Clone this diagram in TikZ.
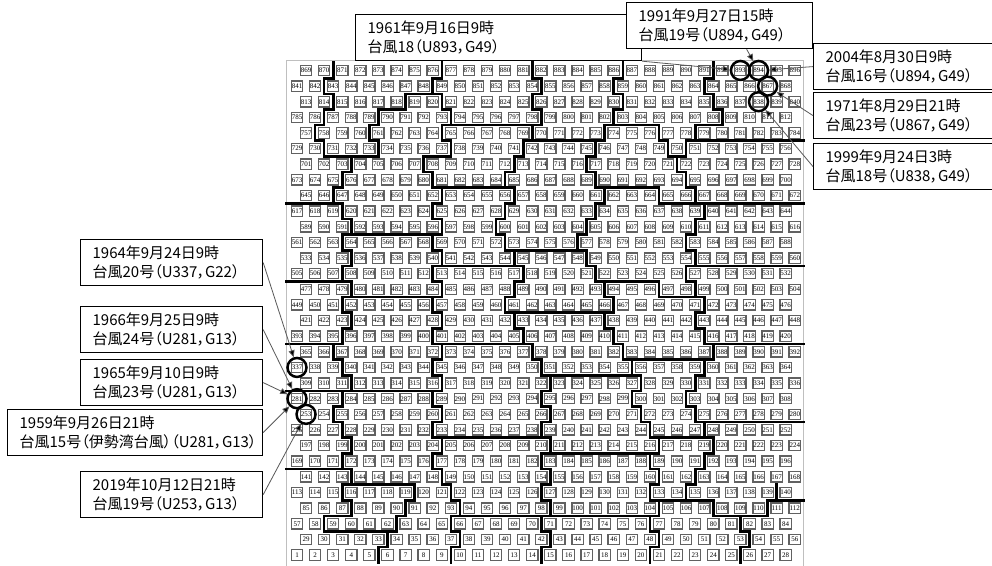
\documentclass[tikz,border=0pt]{standalone}
\usepackage{fontspec}
\setmainfont{Liberation Serif}
\newfontfamily\jp[RawFeature=+palt]{Noto Sans CJK JP}
\usetikzlibrary{arrows.meta}
\begin{document}
\begin{tikzpicture}[x=1pt,y=-1pt,
  cell/.style={draw=black!62, line width=1.25pt, fill=white, minimum width=11.3pt, minimum height=10.3pt, inner sep=0pt, font=\fontsize{7}{7}\selectfont},
  bnd/.style={line width=2.6pt, black, line join=miter, line cap=rect},
  ring/.style={circle, draw=black, line width=2.5pt, minimum size=19pt, inner sep=0pt},
  cbox/.style={draw=black, line width=1.2pt, fill=white, inner xsep=12pt, inner ysep=0pt, minimum height=46pt, align=left, anchor=north west, font=\jp\fontsize{15}{18.5}\selectfont},
  lead/.style={draw=black!65, line width=0.8pt, -{Triangle[length=7pt,width=6pt,fill=black]}}
]
\useasboundingbox (0,0) rectangle (992,565);
\fill[white] (0,0) rectangle (992,565);
% frame of the grid
\draw[black!25, line width=0.8pt] (286,60) rectangle (803,566);
% grid of cells
\foreach \r in {0,...,31}{
  \foreach \c in {0,...,27}{
    \pgfmathtruncatemacro\n{28*\r+\c+1}
    \pgfmathsetmacro\xx{297+18.1*\c+9.05*mod(\r,2)}
    \pgfmathsetmacro\yy{555-15.63*\r}
    \node[cell] (b\n) at (\xx,\yy) {\n};
  }
}
% group boundaries (lattice coordinates)
\begin{scope}[shift={(297,562.8)}, x={(9.05pt,0pt)}, y={(0pt,15.63pt)}]
\draw[bnd] (4,32) \foreach \r/\x in {31/4,30/3,29/4,28/3,27/2,26/3,25/6,24/5,23/4,22/5,21/6,20/5,19/6,18/5,17/6,16/5,15/6,14/5,13/4,12/5,11/6,10/5,9/4,8/5,7/6,6/5,5/6,4/5,3/6,2/3} { -- (\x,\r+1) -- (\x,\r) } -- (10,2);
\draw[bnd] (5,5) -- (13,5) \foreach \r/\x in {4/13,3/12,2/11,1/10,0/9} { -- (\x,\r+1) -- (\x,\r) };
\draw[bnd] (16,32) \foreach \r/\x in {31/16,30/15,29/16,28/17,27/16,26/17,25/14,24/15,23/16,22/15,21/16,20/15,19/16,18/15,17/16,16/15,15/16,14/15,13/16,12/15,11/16,10/15,9/16,8/15,7/16,6/15,5/16,4/17,3/18,2/17,1/18,0/17} { -- (\x,\r+1) -- (\x,\r) };
\draw[bnd] (26,32) \foreach \r/\x in {31/26,30/27,29/26,28/27,27/26,26/25,25/24,24/23,23/24,22/23,21/22,20/23,19/24,18/25,17/24,16/23,15/24,14/25,13/26,12/27,11/28,10/27,9/28,8/27,7/28,6/27,5/28,4/27,3/28,2/27,1/28,0/27} { -- (\x,\r+1) -- (\x,\r) };
\draw[bnd] (36,32) \foreach \r/\x in {31/36,30/35,29/36,28/35,27/34,26/33,25/32,24/33,23/34,22/33,21/32,20/31,19/32,18/33,17/34,16/35,15/34,14/35,13/36,12/37,11/38,10/37,9/38,8/39,7/40,6/39,5/40,4/39,3/40,2/39,1/40,0/39} { -- (\x,\r+1) -- (\x,\r) };
\draw[bnd] (46,32) \foreach \r/\x in {31/46,30/45,29/46,28/47,27/44,26/43,25/42,24/43,23/44,22/45,21/44,20/43,19/44,18/43,17/44,16/45,15/44,14/45,13/46,12/45,11/44,10/43,9/44,8/45,7/46,6/45,5/44,4/43,3/46,2/49,1/50,0/49} { -- (\x,\r+1) -- (\x,\r) };
% right column
\draw[bnd] (44,27) -- (56,27);
\draw[bnd] (34,24) -- (40,24) -- (40,23) -- (56,23);
\draw[bnd] (44,19) -- (56,19);
\draw[bnd] (45,14) -- (56,14);
\draw[bnd] (44,9) -- (56,9);
\draw[bnd] (53,5) -- (53,4) -- (52,4) -- (52,3) -- (46,3);
\draw[bnd] (52,4) -- (56,4);
% between L4 and L5
\draw[bnd] (35,28) -- (40,28) -- (40,27) -- (41,27) -- (41,26) -- (42,26);
\draw[bnd] (34,18) -- (40,18) -- (40,17) -- (45,17);
\draw[bnd] (36,13) -- (46,13);
\draw[bnd] (39,8) -- (45,8);
\draw[bnd] (40,4) -- (46,4);
% between L3 and L4
\draw[bnd] (26,27) -- (34,27);
\draw[bnd] (23,20) -- (32,20);
\draw[bnd] (23,16) -- (35,16);
\draw[bnd] (27,12) -- (37,12);
\draw[bnd] (28,7) -- (40,7);
\draw[bnd] (28,3) -- (40,3);
% between L2 and L3
\draw[bnd] (17,28) -- (27,28);
\draw[bnd] (15,24) -- (23,24);
\draw[bnd] (16,19) -- (24,19);
\draw[bnd] (16,14) -- (26,14);
\draw[bnd] (15,8) -- (27,8);
\draw[bnd] (18,3) -- (28,3);
% between L1 and L2
\draw[bnd] (12,30) -- (15,30);
\draw[bnd] (12,30) -- (12,29) -- (9,29) -- (9,28) -- (8,28) -- (8,27) -- (9,27) -- (9,26) -- (6,26);
\draw[bnd] (6,21) -- (16,21);
\draw[bnd] (5,17) -- (15,17);
\draw[bnd] (6,11) -- (16,11);
% left column
\draw[bnd] (-1.2,23) -- (4,23);
\draw[bnd] (-1.2,18) -- (5,18);
\draw[bnd] (-1.2,14) -- (4,14);
\draw[bnd] (-1.2,11) -- (6,11);
\draw[bnd] (-1.2,6) -- (5,6);
\end{scope}
% rings
\node[ring] (c893) at (b893) {};
\node[ring] (c894) at (b894) {};
\node[ring] (c867) at (b867) {};
\node[ring] (c838) at (b838) {};
\node[ring] (c337) at (b337) {};
\node[ring] (c281) at (b281) {};
\node[ring] (c253) at (b253) {};
% callouts
\node[cbox, text width=262pt] (t1961) at (355,14) {1961年9月16日9時\\台風18（U893，G49）};
\node[cbox, text width=162pt] (t1991) at (626,2) {1991年9月27日15時\\台風19号（U894，G49）};
\node[cbox, text width=163pt] (t2004) at (813,43) {2004年8月30日9時\\台風16号（U894，G49）};
\node[cbox, text width=163pt] (t1971) at (813,92) {1971年8月29日21時\\台風23号（U867，G49）};
\node[cbox, text width=163pt] (t1999) at (813,143) {1999年9月24日3時\\台風18号（U838，G49）};
\node[cbox, text width=158pt] (t1964) at (80,239) {1964年9月24日9時\\台風20号（U337，G22）};
\node[cbox, text width=158pt] (t1966) at (80,306) {1966年9月25日9時\\台風24号（U281，G13）};
\node[cbox, text width=158pt] (t1965) at (80,359) {1965年9月10日9時\\台風23号（U281，G13）};
\node[cbox, text width=231pt] (t1959) at (7,409) {1959年9月26日21時\\台風15号（伊勢湾台風）（U281，G13）};
\node[cbox, text width=158pt] (t2019) at (80,471) {2019年10月12日21時\\台風19号（U253，G13）};
% leaders
\draw[lead] (t1961.south east) -- (c893);
\draw[lead] ([xshift=27pt]t1991.south) -- (c894);
\draw[lead] (t2004.west) -- (c894);
\draw[lead] (t1971.west) -- (c867);
\draw[lead] (t1999.west) -- (c838);
\draw[lead] (t1964.east) -- (c337);
\draw[lead] (t1966.east) -- (c281);
\draw[lead] (t1965.east) -- (c281);
\draw[lead] (t1959.east) -- (c281);
\draw[lead] (t2019.east) -- (c253);
\end{tikzpicture}
\end{document}
